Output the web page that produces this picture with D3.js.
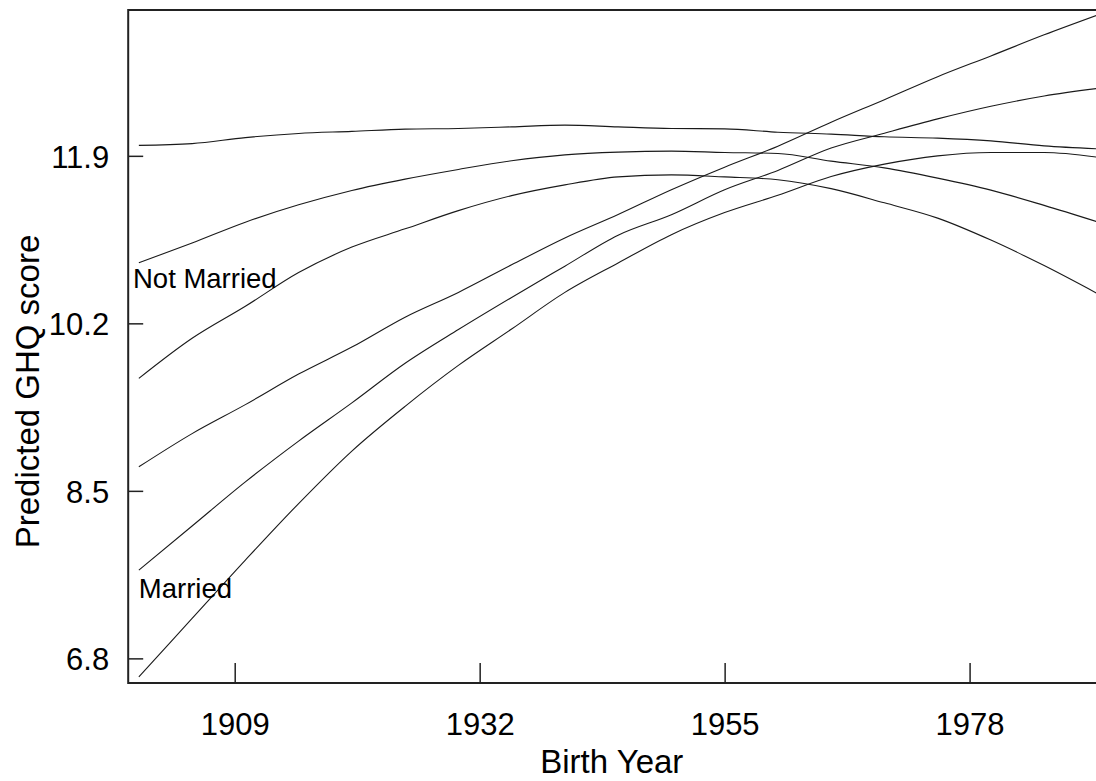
<!DOCTYPE html>
<html>
<head>
<meta charset="utf-8">
<script src="https://cdn.jsdelivr.net/npm/d3@7"></script>
<style>
  html, body { margin: 0; padding: 0; background: #fff; overflow: hidden; }
  svg { display: block; }
  text { font-family: "Liberation Sans", Arial, Helvetica, sans-serif; fill: #000; }
</style>
</head>
<body>
<script>
// ---- Data ----
const years = [1900, 1905, 1910, 1915, 1920, 1925, 1930, 1935, 1940, 1945,
               1950, 1955, 1960, 1965, 1970, 1975, 1980, 1985, 1990];

const line1 = [12.006, 12.024, 12.085, 12.127, 12.148, 12.171, 12.178, 12.194, 12.212, 12.194,
               12.178, 12.174, 12.140, 12.120, 12.093, 12.080, 12.052, 12.001, 11.971];
const line2 = [10.814, 11.016, 11.227, 11.403, 11.549, 11.664, 11.762, 11.850, 11.910, 11.938,
               11.948, 11.934, 11.924, 11.846, 11.778, 11.674, 11.552, 11.397, 11.230];
const line3 = [9.641, 10.048, 10.373, 10.715, 10.974, 11.159, 11.344, 11.496, 11.605, 11.686,
               11.707, 11.686, 11.658, 11.567, 11.423, 11.268, 11.045, 10.786, 10.502];
const line4 = [8.744, 9.081, 9.375, 9.685, 9.959, 10.263, 10.514, 10.794, 11.066, 11.304,
               11.556, 11.785, 11.998, 12.241, 12.470, 12.703, 12.914, 13.128, 13.328];
const line5 = [7.696, 8.143, 8.591, 9.005, 9.393, 9.795, 10.137, 10.463, 10.780, 11.095,
               11.303, 11.556, 11.752, 11.979, 12.130, 12.275, 12.403, 12.508, 12.584];
const line6 = [6.613, 7.205, 7.797, 8.371, 8.904, 9.358, 9.773, 10.142, 10.514, 10.813,
               11.100, 11.324, 11.500, 11.690, 11.816, 11.900, 11.934, 11.934, 11.887];

const seriesList = [line1, line2, line3, line4, line5, line6];

const xTicks = [1909, 1932, 1955, 1978];
const yTicks = [6.8, 8.5, 10.2, 11.9];
const yTickLabels = ["6.8", "8.5", "10.2", "11.9"];

const annotations = [
  { text: "Not Married", year: 1899.45, value: 10.554 },
  { text: "Married", year: 1900.0, value: 7.409 }
];

const xTitle = "Birth Year";
const yTitle = "Predicted GHQ score";

// ---- Layout ----
(function draw() {
  const W = 1096, H = 781;
  const pLeft = 128.2, pRight = 1097.4, pTop = 10, pBottom = 683;
  const tickFont = "31px";
  const titleFont = "33px";

  const svg = d3.select("body").append("svg")
    .attr("width", W).attr("height", H);

  const x = d3.scaleLinear().domain([1899, 1990]).range([pLeft, pRight]);
  const y = d3.scaleLinear().domain([6.55, 13.38]).range([pBottom, pTop]);

  const lineGen = d3.line()
    .x((d, i) => x(years[i]))
    .y(d => y(d))
    .curve(d3.curveMonotoneX);

  svg.append("g").selectAll("path")
    .data(seriesList)
    .join("path")
    .attr("d", d => lineGen(d))
    .attr("fill", "none")
    .attr("stroke", "#1a1a1a")
    .attr("stroke-width", 1.1);

  svg.append("path")
    .attr("d", `M${pRight + 5},${pTop} L${pLeft},${pTop} L${pLeft},${pBottom} L${pRight + 5},${pBottom}`)
    .attr("fill", "none")
    .attr("stroke", "#222")
    .attr("stroke-width", 2);

  const yAxis = d3.axisRight(y)
    .tickValues(yTicks)
    .tickSize(15)
    .tickFormat((d, i) => yTickLabels[i]);
  const gy = svg.append("g").attr("transform", `translate(${pLeft},0)`).call(yAxis);
  gy.select(".domain").remove();
  gy.selectAll(".tick line").attr("stroke", "#222").attr("stroke-width", 1.5);
  gy.selectAll(".tick text")
    .attr("x", -19)
    .attr("dy", "0.36em")
    .attr("text-anchor", "end")
    .style("font-size", tickFont)
    .style("font-family", "'Liberation Sans', Arial, Helvetica, sans-serif")
    .attr("fill", "#000");

  const xAxis = d3.axisTop(x)
    .tickValues(xTicks)
    .tickSize(20)
    .tickFormat(d3.format("d"));
  const gx = svg.append("g").attr("transform", `translate(0,${pBottom})`).call(xAxis);
  gx.select(".domain").remove();
  gx.selectAll(".tick line").attr("stroke", "#222").attr("stroke-width", 1.5);
  gx.selectAll(".tick text")
    .attr("y", 52)
    .attr("dy", 0)
    .attr("text-anchor", "middle")
    .style("font-size", tickFont)
    .style("font-family", "'Liberation Sans', Arial, Helvetica, sans-serif")
    .attr("fill", "#000");

  svg.append("text")
    .attr("x", (pLeft + pRight) / 2 - 1)
    .attr("y", 773)
    .attr("text-anchor", "middle")
    .style("font-size", titleFont)
    .text(xTitle);

  svg.append("text")
    .attr("transform", `translate(39,${(pTop + pBottom) / 2 + 45}) rotate(-90)`)
    .attr("text-anchor", "middle")
    .style("font-size", titleFont)
    .text(yTitle);

  svg.append("g").selectAll("text")
    .data(annotations)
    .join("text")
    .attr("x", d => x(d.year))
    .attr("y", d => y(d.value))
    .style("font-size", "27.5px")
    .text(d => d.text);
})();
</script>
</body>
</html>
